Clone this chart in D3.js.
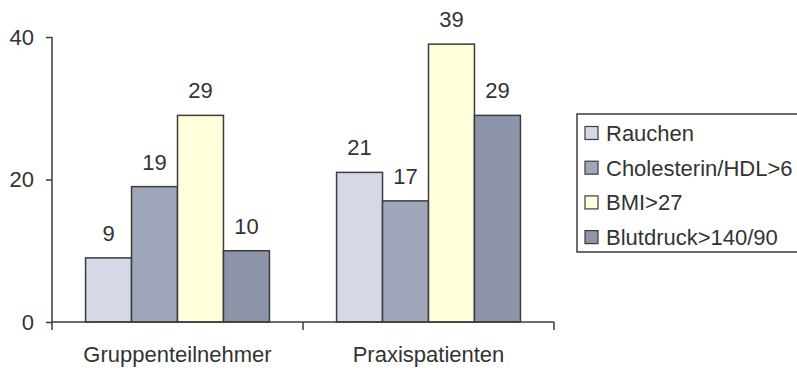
<!DOCTYPE html>
<html>
<head>
<meta charset="utf-8">
<script src="https://cdn.jsdelivr.net/npm/d3@7"></script>
<style>
  html, body { margin: 0; padding: 0; background: #ffffff; }
  svg { display: block; }
  text { font-family: "Liberation Sans", Arial, sans-serif; fill: #333; }
</style>
</head>
<body>
<svg id="chart" width="797" height="370"></svg>
<script>
// Categories and series
const groups = ["Gruppenteilnehmer", "Praxispatienten"];
const seriesNames = ["Rauchen", "Cholesterin/HDL>6", "BMI>27", "Blutdruck>140/90"];
const rauchen = [9, 21];
const cholesterin = [19, 17];
const bmi = [29, 39];
const blutdruck = [10, 29];
const yTicks = [0, 20, 40];
const seriesColors = ["#d4d9e5", "#a0a7bb", "#ffffdc", "#8e95a9"];

const seriesValues = [rauchen, cholesterin, bmi, blutdruck];
const rows = groups.map((g, gi) => ({
  group: g,
  values: seriesNames.map((s, si) => ({ series: s, value: seriesValues[si][gi] }))
}));

const svg = d3.select("#chart");
const plotLeft = 52, plotRight = 554, plotTop = 37, plotBottom = 322;
const fontSize = "22px";

const x0 = d3.scaleBand().domain(groups).range([plotLeft, plotRight]).paddingInner(0).paddingOuter(0);
const x1 = d3.scaleBand().domain(seriesNames).range([0, x0.bandwidth()]).paddingOuter(0.73).paddingInner(0);
const y = d3.scaleLinear().domain([0, 40]).range([plotBottom, plotTop]);
const color = d3.scaleOrdinal().domain(seriesNames).range(seriesColors);

const axisColor = "#3c3c3c";

// Bars
const g = svg.append("g");
const grp = g.selectAll("g.grp").data(rows).join("g")
  .attr("class", "grp")
  .attr("transform", d => `translate(${x0(d.group)},0)`);

grp.selectAll("rect").data(d => d.values).join("rect")
  .attr("x", d => x1(d.series))
  .attr("y", d => y(d.value))
  .attr("width", x1.bandwidth())
  .attr("height", d => y(0) - y(d.value))
  .attr("fill", d => color(d.series))
  .attr("stroke", axisColor)
  .attr("stroke-width", 1.5);

// Value labels
grp.selectAll("text.val").data(d => d.values).join("text")
  .attr("class", "val")
  .attr("x", d => x1(d.series) + x1.bandwidth() / 2)
  .attr("y", d => y(d.value) - 17)
  .attr("text-anchor", "middle")
  .style("font-size", fontSize)
  .text(d => d.value);

// Y axis
const yAxis = d3.axisLeft(y).tickValues(yTicks).tickSize(6).tickPadding(12);
const yg = svg.append("g").attr("transform", `translate(${plotLeft},0)`).call(yAxis);
yg.select(".domain").attr("d", `M0,${plotTop}V${plotBottom + 8}`);
yg.selectAll("path, line").attr("stroke", axisColor).attr("stroke-width", 1.5);
yg.selectAll("text").style("font-size", fontSize).attr("fill", "#333")
  .style("font-family", '"Liberation Sans", Arial, sans-serif');

// X axis with boundary ticks between categories
const xg = svg.append("g").attr("transform", `translate(0,${plotBottom})`);
xg.append("line").attr("x1", plotLeft).attr("x2", plotRight).attr("y1", 0).attr("y2", 0)
  .attr("stroke", axisColor).attr("stroke-width", 1.5);
const bounds = groups.map(d => x0(d) + x0.bandwidth());
xg.selectAll("line.tick").data(bounds).join("line")
  .attr("class", "tick")
  .attr("x1", d => d).attr("x2", d => d)
  .attr("y1", 0).attr("y2", 8)
  .attr("stroke", axisColor).attr("stroke-width", 1.5);
xg.selectAll("text").data(groups).join("text")
  .attr("x", d => x0(d) + x0.bandwidth() / 2)
  .attr("y", 40)
  .attr("text-anchor", "middle")
  .style("font-size", fontSize)
  .text(d => d);

// Legend
const lg = svg.append("g");
lg.append("rect")
  .attr("x", 577).attr("y", 114).attr("width", 240).attr("height", 138)
  .attr("fill", "none").attr("stroke", axisColor).attr("stroke-width", 1.5);
const item = lg.selectAll("g.item").data(seriesNames).join("g")
  .attr("class", "item")
  .attr("transform", (d, i) => `translate(585,${133 + i * 34.7})`);
item.append("rect")
  .attr("x", 0).attr("y", -6.5).attr("width", 13).attr("height", 13)
  .attr("fill", d => color(d)).attr("stroke", axisColor).attr("stroke-width", 1.2);
item.append("text")
  .attr("x", 21).attr("y", 8)
  .style("font-size", fontSize)
  .text(d => d);
</script>
</body>
</html>
